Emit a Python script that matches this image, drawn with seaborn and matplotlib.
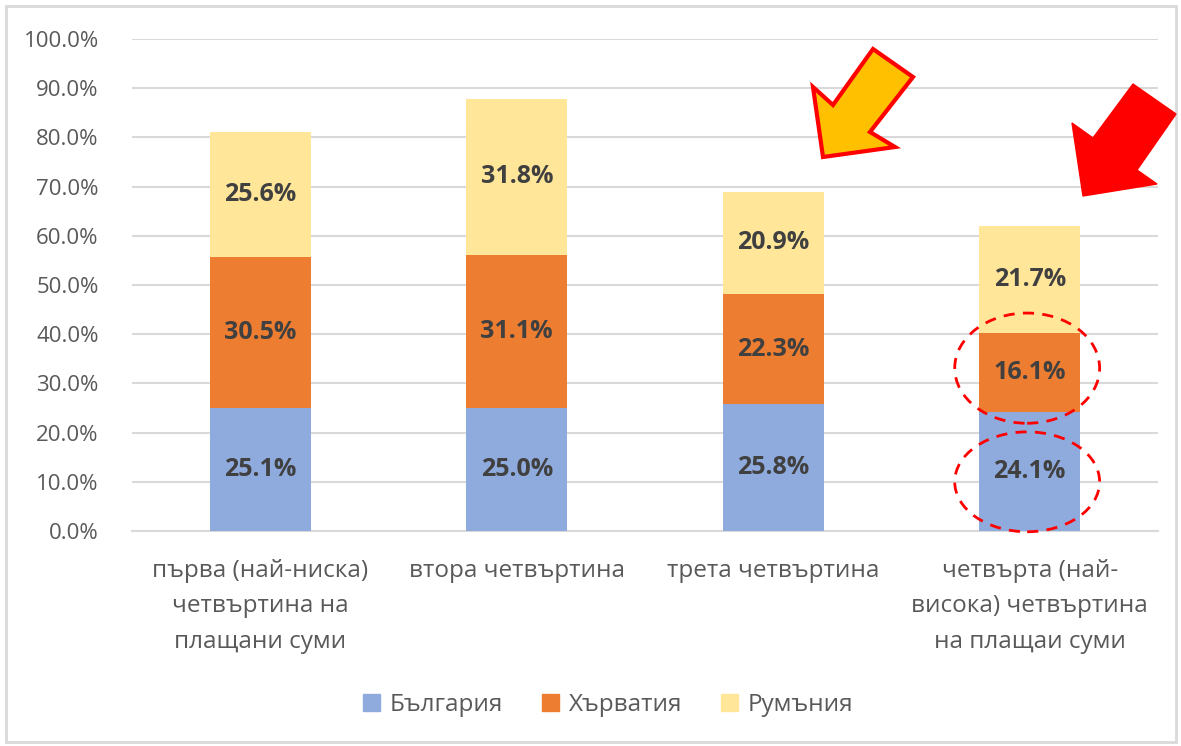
import numpy as np
import pandas as pd
import matplotlib
matplotlib.use("Agg")
import matplotlib.pyplot as plt
import matplotlib.patches as mpatches
from matplotlib.ticker import FuncFormatter
import seaborn as sns

# Data
categories = ["първа (най-ниска)\nчетвъртина на\nплащани суми",
              "втора четвъртина",
              "трета четвъртина",
              "четвърта (най-\nвисока) четвъртина\nна плащаи суми"]
series = ["България", "Хърватия", "Румъния"]
bulgaria = [25.1, 25.0, 25.8, 24.1]
croatia  = [30.5, 31.1, 22.3, 16.1]
romania  = [25.6, 31.8, 20.9, 21.7]
colors = {"България": "#8FAADC", "Хърватия": "#ED7D31", "Румъния": "#FFE699"}
yticks = [0, 10, 20, 30, 40, 50, 60, 70, 80, 90, 100]

sns.set_theme(style="white")
plt.rcParams["font.family"] = ["Open Sans", "DejaVu Sans"]

vals = np.array([bulgaria, croatia, romania])
cum = vals.cumsum(axis=0)
df = pd.DataFrame({"cat": categories})
for i, s in enumerate(series):
    df[s] = cum[i]

fig = plt.figure(figsize=(11.81, 7.46), dpi=100)
ax = fig.add_axes([0.1118, 0.2882, 0.8687, 0.6595])

# stack by overlaying cumulative totals, top first
for i in reversed(range(len(series))):
    sns.barplot(data=df, x="cat", y=series[i], color=colors[series[i]],
                width=0.394, saturation=1, ax=ax, zorder=3, linewidth=0)

for j in range(len(categories)):
    for i in range(len(series)):
        mid = cum[i, j] - vals[i, j] / 2
        ax.text(j, mid, f"{vals[i, j]:.1f}%", ha="center", va="center",
                fontsize=18, fontweight="bold", color="#404040", zorder=5)

ax.set_ylim(0, 100)
ax.set_xlim(-0.5, 3.5)
ax.set_yticks(yticks)
ax.yaxis.set_major_formatter(FuncFormatter(lambda v, p: f"{v:.1f}%"))
ax.grid(axis="y", color="#D9D9D9", linewidth=1.5, zorder=0)
ax.set_axisbelow(True)
for sp in ax.spines.values():
    sp.set_visible(False)
ax.spines["bottom"].set_visible(True)
ax.spines["bottom"].set_color("#D9D9D9")
ax.spines["bottom"].set_linewidth(1.5)
ax.set_xlabel(""); ax.set_ylabel("")
ax.tick_params(axis="y", length=0, pad=24, labelsize=16, labelcolor="#595959")
ax.tick_params(axis="x", length=0, pad=20, labelsize=17.5, labelcolor="#595959")
for t in ax.get_xticklabels():
    t.set_linespacing(1.65)

# ellipses around the last bar's lower segments
for yc, h in [(33.1, 22.4), (10.0, 20.3)]:
    ax.add_patch(mpatches.Ellipse((-0.01 + 3, yc), 0.565, h, fill=False,
                                  edgecolor="red", linestyle=(0, (4, 3)),
                                  linewidth=2, zorder=6, clip_on=False))

# block arrows (figure pixel coords, y from top)
W, H = 1181, 746
def poly(pts):
    return [(x / W, 1 - y / H) for x, y in pts]
orange = [(823, 157), (813, 87), (833, 105), (873, 49), (913, 77), (870, 132), (895, 147)]
red = [(1083, 196), (1072, 123), (1093, 138), (1133, 84), (1176, 114), (1137, 170), (1157, 184)]
fig.patches.append(mpatches.Polygon(poly(orange), closed=True, facecolor="#FFC000",
                                    edgecolor="#FF0000", linewidth=3,
                                    transform=fig.transFigure, zorder=10))
fig.patches.append(mpatches.Polygon(poly(red), closed=True, facecolor="#FF0000",
                                    edgecolor="#FF0000", linewidth=1,
                                    transform=fig.transFigure, zorder=10))

# legend
handles = [mpatches.Patch(color=colors[s], label=s) for s in series]
fig.legend(handles=handles, loc="center", bbox_to_anchor=(0.515, 1 - 705 / H),
           ncol=3, frameon=False, fontsize=17.5, handlelength=0.7, handleheight=0.7,
           handletextpad=0.4, columnspacing=1.6, labelcolor="#595959")

# chart border
fig.patches.append(mpatches.Rectangle((6 / W, 4 / H), 1170 / W, 736 / H, fill=False,
                                      edgecolor="#D9D9D9", linewidth=2,
                                      transform=fig.transFigure))

fig.savefig("out.png", dpi=100)
